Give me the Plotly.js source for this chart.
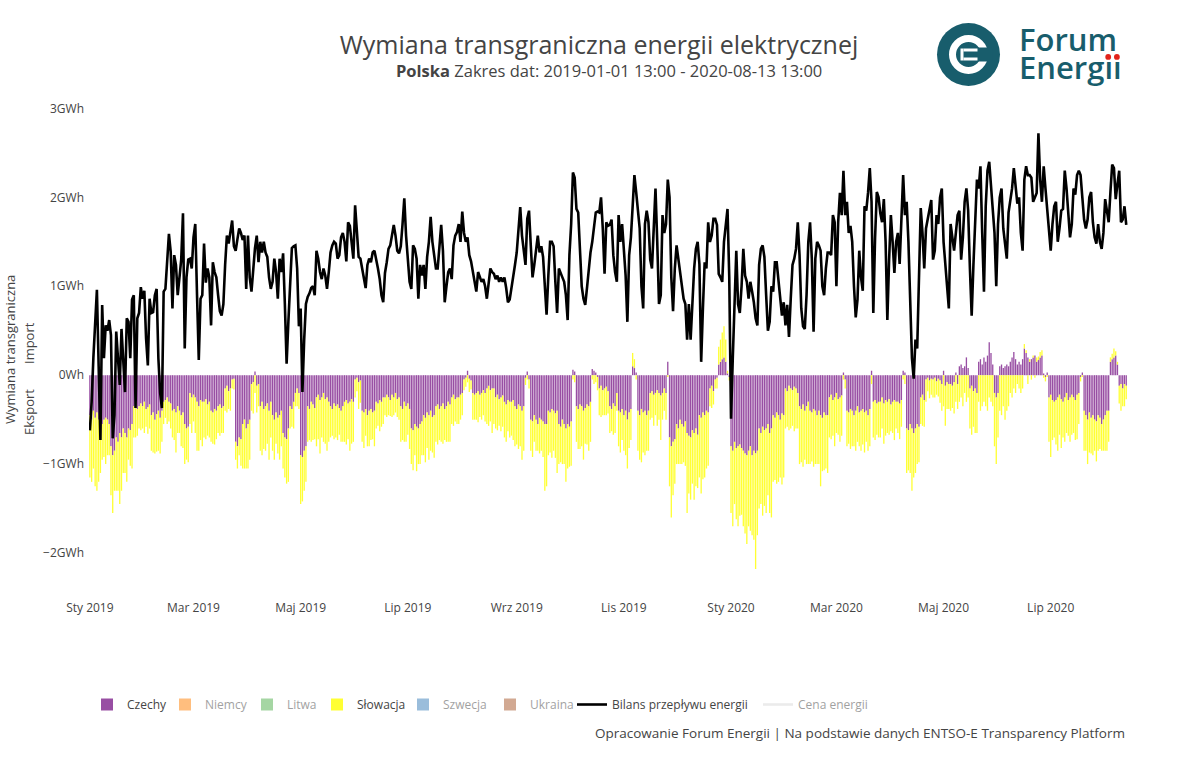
<!DOCTYPE html>
<html>
<head>
<meta charset="utf-8">
<script src="https://cdn.plot.ly/plotly-3.0.1.min.js"></script>
<style>html,body{margin:0;padding:0;background:#fff;}#chart{width:1200px;height:758px;}</style>
</head>
<body>
<div id="chart"></div>
<script>
// ---------------- DATA (GWh, daily, 2019-01-01 .. 2020-08-13) ----------------
const START_DATE = '2019-01-01';
const N_DAYS = 591;

const czechy = [
-0.45,-0.5,-0.4,-0.48,-0.42,-0.5,-0.45,-0.55,-0.5,-0.48,
-0.5,-0.55,-0.8,-0.9,-0.85,-0.7,-0.75,-0.65,-0.7,-0.6,
-0.65,-0.7,-0.6,-0.62,-0.55,-0.35,-0.3,-0.38,-0.35,-0.32,
-0.35,-0.3,-0.38,-0.36,-0.33,-0.45,-0.42,-0.5,-0.44,-0.4,
-0.48,-0.4,-0.3,-0.28,-0.25,-0.3,-0.32,-0.4,-0.38,-0.42,
-0.35,-0.4,-0.45,-0.42,-0.55,-0.6,-0.58,-0.2,-0.25,-0.22,
-0.25,-0.3,-0.35,-0.28,-0.3,-0.3,-0.27,-0.33,-0.3,-0.4,
-0.42,-0.38,-0.4,-0.35,-0.33,-0.37,-0.35,-0.15,-0.12,-0.18,
-0.15,-0.05,-0.04,-0.75,-0.8,-0.7,-0.72,-0.55,-0.5,-0.6,
-0.55,-0.5,-0.1,-0.08,0.04,-0.12,-0.1,-0.35,-0.3,-0.38,
-0.35,-0.32,-0.4,-0.3,-0.45,-0.5,-0.42,-0.48,-0.45,-0.4,
-0.65,-0.7,-0.72,-0.6,-0.35,-0.38,-0.3,-0.2,-0.15,-0.2,
-0.9,-0.92,-0.85,-0.8,-0.35,-0.38,-0.3,-0.33,-0.37,-0.25,
-0.22,-0.28,-0.25,-0.2,-0.27,-0.25,-0.3,-0.35,-0.38,-0.32,
-0.35,-0.33,-0.37,-0.4,-0.35,-0.3,-0.28,-0.32,-0.3,-0.27,
-0.3,-0.05,-0.03,-0.08,-0.06,-0.4,-0.42,-0.38,-0.45,-0.4,
-0.38,-0.42,-0.4,-0.3,-0.32,-0.28,-0.3,-0.25,-0.25,-0.22,
-0.25,-0.28,-0.22,-0.25,-0.2,-0.27,-0.25,-0.35,-0.38,-0.3,
-0.35,-0.32,-0.38,-0.6,-0.62,-0.55,-0.58,-0.6,-0.55,-0.52,
-0.45,-0.48,-0.42,-0.45,-0.4,-0.47,-0.45,-0.35,-0.33,-0.38,
-0.35,-0.32,-0.38,-0.35,-0.3,-0.33,-0.25,-0.22,-0.27,-0.25,
-0.25,-0.22,-0.2,-0.05,-0.03,0.05,-0.04,-0.06,-0.2,-0.22,
-0.2,-0.18,-0.22,-0.2,-0.17,-0.2,-0.15,-0.12,-0.17,-0.15,
-0.15,-0.25,-0.22,-0.27,-0.25,-0.23,-0.3,-0.33,-0.28,-0.3,
-0.3,-0.28,-0.35,-0.38,-0.33,-0.35,-0.4,-0.35,-0.03,0.04,
-0.05,-0.5,-0.52,-0.45,-0.5,-0.55,-0.48,-0.5,-0.52,-0.55,
-0.55,-0.4,-0.42,-0.38,-0.4,-0.43,-0.4,-0.55,-0.58,-0.5,
-0.55,-0.6,-0.55,-0.58,-0.52,0.06,0.04,-0.35,-0.38,-0.33,
-0.35,-0.4,-0.37,-0.33,-0.35,-0.3,0.07,0.05,0.03,-0.02,
-0.15,-0.12,-0.17,-0.15,-0.13,-0.18,-0.35,-0.38,-0.32,-0.35,
-0.2,-0.4,-0.42,-0.38,-0.45,-0.4,-0.5,-0.42,-0.38,0.1,
0.08,0.03,-0.4,-0.45,-0.38,-0.42,-0.4,-0.45,-0.4,-0.2,
-0.18,-0.22,-0.2,-0.17,-0.2,-0.23,-0.2,-0.15,-0.2,0.15,
-0.7,-0.8,-0.75,-0.72,-0.55,-0.6,-0.5,-0.55,-0.58,-0.52,
-0.65,-0.68,-0.7,-0.62,-0.65,-0.6,-0.67,-0.45,-0.48,-0.42,
-0.45,-0.4,-0.42,-0.15,-0.12,-0.18,-0.05,-0.03,0.12,0.15,
0.18,0.2,0.15,0.02,-0.02,-0.8,-0.85,-0.75,-0.82,-0.8,
-0.78,-0.82,-0.85,-0.88,-0.9,-0.85,-0.8,-0.9,-0.85,-0.88,
-0.85,-0.6,-0.65,-0.58,-0.62,-0.6,-0.55,-0.65,-0.6,-0.45,
-0.48,-0.42,-0.45,-0.5,-0.43,-0.45,-0.15,-0.18,-0.12,-0.15,
-0.17,-0.13,-0.15,-0.2,-0.35,-0.38,-0.33,-0.4,-0.35,-0.3,
-0.4,-0.42,-0.38,-0.4,-0.45,-0.4,-0.45,-0.48,-0.42,-0.45,
-0.45,-0.25,-0.22,-0.28,-0.25,-0.2,-0.27,-0.25,-0.23,0.03,
-0.05,-0.4,-0.42,-0.38,-0.4,-0.45,-0.4,-0.35,-0.42,-0.4,
-0.38,-0.42,-0.4,-0.45,-0.38,0.05,-0.3,-0.28,-0.32,-0.3,
-0.3,-0.25,-0.32,-0.28,-0.3,-0.27,-0.33,-0.3,-0.28,-0.3,
-0.3,-0.32,-0.28,0.05,0.03,-0.6,-0.62,-0.55,-0.6,-0.65,
-0.6,-0.55,-0.58,-0.25,-0.22,-0.28,-0.05,-0.03,-0.06,-0.04,
-0.05,-0.03,-0.07,-0.04,-0.06,-0.1,0.05,-0.12,-0.08,-0.1,
-0.1,-0.12,-0.08,0.03,-0.1,0.1,0.12,0.08,0.1,0.2,
0.08,-0.15,-0.12,-0.18,-0.15,-0.2,0.15,0.18,0.12,0.2,
0.15,0.22,0.37,0.25,0.12,-0.2,-0.25,-0.2,0.1,0.12,
0.08,0.1,0.12,0.1,0.15,0.2,0.26,0.18,0.12,0.15,
0.12,0.18,0.3,0.25,0.2,0.15,0.18,0.2,0.22,0.15,
0.17,0.2,0.22,0.02,-0.02,0.03,-0.25,-0.22,-0.28,-0.3,
-0.28,-0.25,-0.22,-0.27,-0.3,-0.25,-0.2,-0.28,-0.25,-0.22,
-0.25,-0.28,-0.22,-0.2,-0.02,0.03,-0.4,-0.45,-0.5,-0.42,
-0.48,-0.45,-0.5,-0.52,-0.45,-0.48,-0.55,-0.5,-0.45,-0.4,
-0.4,0.15,0.18,0.2,0.22,0.12,-0.12,-0.1,-0.15,-0.1,-0.12
];

const slowacja = [
-0.7,-0.7,-0.65,-0.77,-0.88,-0.7,-0.65,-0.4,-0.42,-0.52,
-0.4,-0.35,-0.55,-0.65,-0.45,-0.6,-0.55,-0.8,-0.6,-0.5,
-0.45,-0.5,-0.35,-0.4,-0.5,-0.35,-0.4,-0.3,-0.25,-0.3,
-0.25,-0.35,-0.2,-0.3,-0.27,-0.4,-0.45,-0.38,-0.42,-0.45,
-0.4,-0.35,-0.25,-0.2,-0.3,-0.22,-0.28,-0.3,-0.35,-0.45,
-0.3,-0.25,-0.35,-0.4,-0.45,-0.35,-0.4,-0.35,-0.4,-0.3,
-0.4,-0.55,-0.5,-0.45,-0.5,-0.4,-0.45,-0.35,-0.4,-0.35,
-0.35,-0.4,-0.32,-0.3,-0.35,-0.28,-0.3,-0.25,-0.3,-0.2,
-0.25,-0.1,-0.12,-0.2,-0.25,-0.2,-0.3,-0.5,-0.55,-0.45,
-0.5,-0.45,-0.3,-0.35,-0.2,-0.3,-0.25,-0.5,-0.6,-0.45,
-0.5,-0.45,-0.55,-0.4,-0.4,-0.45,-0.35,-0.4,-0.5,-0.4,
-0.4,-0.45,-0.5,-0.6,-0.25,-0.2,-0.3,-0.15,-0.2,-0.18,
-0.55,-0.5,-0.45,-0.4,-0.4,-0.35,-0.45,-0.4,-0.35,-0.55,
-0.5,-0.6,-0.45,-0.55,-0.5,-0.6,-0.45,-0.35,-0.3,-0.4,
-0.35,-0.4,-0.3,-0.35,-0.4,-0.45,-0.5,-0.4,-0.55,-0.5,
-0.45,-0.2,-0.15,-0.3,-0.25,-0.35,-0.4,-0.3,-0.35,-0.4,
-0.35,-0.3,-0.4,-0.3,-0.25,-0.35,-0.28,-0.3,-0.2,-0.25,
-0.2,-0.18,-0.25,-0.2,-0.22,-0.2,-0.25,-0.4,-0.35,-0.45,
-0.4,-0.35,-0.45,-0.4,-0.45,-0.35,-0.5,-0.4,-0.45,-0.38,
-0.45,-0.5,-0.4,-0.5,-0.45,-0.4,-0.48,-0.4,-0.45,-0.35,
-0.4,-0.45,-0.35,-0.4,-0.45,-0.42,-0.3,-0.35,-0.25,-0.3,
-0.3,-0.28,-0.25,-0.12,-0.1,-0.08,-0.15,-0.1,-0.3,-0.28,
-0.3,-0.35,-0.25,-0.3,-0.28,-0.32,-0.4,-0.45,-0.35,-0.5,
-0.4,-0.35,-0.4,-0.3,-0.38,-0.35,-0.4,-0.42,-0.35,-0.4,
-0.38,-0.45,-0.45,-0.4,-0.5,-0.45,-0.55,-0.5,-0.08,-0.05,
-0.1,-0.35,-0.4,-0.3,-0.35,-0.3,-0.4,-0.35,-0.4,-0.75,
-0.7,-0.5,-0.45,-0.55,-0.45,-0.5,-0.7,-0.45,-0.4,-0.5,
-0.45,-0.6,-0.5,-0.45,-0.5,-0.05,-0.08,-0.4,-0.45,-0.5,
-0.45,-0.55,-0.4,-0.45,-0.5,-0.45,-0.05,-0.1,-0.08,-0.15,
-0.3,-0.35,-0.28,-0.3,-0.32,-0.25,-0.3,-0.25,-0.35,-0.3,
-0.2,-0.4,-0.45,-0.35,-0.4,-0.5,-0.55,-0.4,-0.35,0.15,
0.1,-0.05,-0.45,-0.5,-0.6,-0.45,-0.5,-0.4,-0.45,-0.3,
-0.3,-0.35,-0.25,-0.4,-0.3,-0.5,-0.3,-0.25,-0.3,-0.02,
-0.55,-0.8,-0.6,-0.5,-0.45,-0.4,-0.5,-0.45,-0.4,-0.5,
-0.9,-0.65,-0.7,-0.6,-0.75,-0.65,-0.6,-0.7,-0.85,-0.75,
-0.7,-0.65,-0.6,-0.2,-0.25,-0.15,-0.1,-0.12,0.2,0.25,
0.3,0.35,0.25,0.03,-0.04,-0.75,-0.85,-0.7,-0.8,-0.9,
-0.8,-0.75,-0.85,-0.9,-1.0,-0.85,-0.95,-0.9,-1.0,-1.3,
-0.95,-0.9,-0.8,-1.0,-0.85,-0.95,-0.8,-0.9,-1.0,-0.75,
-0.7,-0.8,-0.75,-0.65,-0.8,-0.7,-0.45,-0.4,-0.5,-0.45,
-0.4,-0.5,-0.45,-0.4,-0.65,-0.6,-0.7,-0.55,-0.65,-0.7,
-0.6,-0.55,-0.65,-0.6,-0.55,-0.6,-0.8,-0.6,-0.65,-0.6,
-0.65,-0.45,-0.5,-0.4,-0.55,-0.45,-0.4,-0.5,-0.45,-0.05,
-0.1,-0.4,-0.35,-0.45,-0.4,-0.35,-0.45,-0.4,-0.38,-0.45,
-0.4,-0.45,-0.35,-0.4,-0.42,-0.1,-0.4,-0.45,-0.35,-0.4,
-0.4,-0.35,-0.45,-0.4,-0.35,-0.4,-0.3,-0.35,-0.45,-0.3,
-0.35,-0.4,-0.3,-0.05,-0.1,-0.5,-0.45,-0.55,-0.7,-0.5,
-0.5,-0.45,-0.4,-0.3,-0.35,-0.3,-0.25,-0.15,-0.2,-0.18,
-0.2,-0.22,-0.15,-0.2,-0.25,-0.3,-0.35,-0.45,-0.3,-0.28,
-0.3,-0.25,-0.35,-0.3,-0.28,-0.3,-0.25,-0.35,-0.2,-0.3,
-0.25,-0.45,-0.55,-0.4,-0.5,-0.45,-0.3,-0.4,-0.35,-0.3,
-0.35,-0.4,-0.25,-0.3,-0.35,-0.6,-0.75,-0.5,-0.4,-0.45,
-0.35,-0.5,-0.4,-0.35,-0.2,-0.25,-0.15,-0.2,-0.1,-0.15,
-0.2,-0.15,0.05,0.03,-0.1,0.03,-0.05,0.02,-0.03,0.05,
0.04,0.06,0.06,-0.03,-0.05,-0.02,-0.5,-0.7,-0.45,-0.4,
-0.5,-0.6,-0.45,-0.55,-0.4,-0.5,-0.45,-0.4,-0.5,-0.45,
-0.4,-0.45,-0.5,-0.35,-0.05,-0.02,-0.45,-0.4,-0.5,-0.45,
-0.4,-0.45,-0.35,-0.45,-0.4,-0.35,-0.3,-0.35,-0.4,-0.45,
-0.35,0.05,0.06,0.1,0.05,0.03,-0.2,-0.3,-0.2,-0.25,-0.15
];

const bilans = [
-0.62,-0.3,0.2,0.6,0.96,0.1,-0.73,0.79,0.19,0.56,
0.5,0.62,0.45,-0.71,-0.45,0.49,0.19,-0.11,0.52,0.1,
-0.19,0.64,0.6,0.19,0.85,0.9,-0.37,0.64,0.7,0.99,
0.86,0.95,0.41,0.11,0.86,0.7,0.71,0.9,0.97,0.19,
-0.2,-0.37,0.94,0.97,1.31,1.59,1.39,0.75,1.35,1.24,
0.9,1.1,1.3,1.82,0.3,1.1,1.3,1.31,1.2,1.55,
1.7,0.9,0.17,0.86,0.9,1.48,1.04,1.2,1.1,0.56,
1.27,1.16,1.1,0.9,0.72,0.67,0.8,1.24,1.57,1.48,
1.6,1.74,1.45,1.4,1.53,1.65,1.6,1.52,1.57,0.97,
1.57,1.1,0.94,1.24,1.43,1.57,1.27,1.5,1.38,1.5,
1.38,1.33,1.1,0.97,1.05,1.31,1.16,0.86,1.31,1.16,
1.37,0.8,0.13,0.6,1.05,1.43,1.45,1.46,1.2,0.55,
0.75,-0.19,0.4,0.8,0.88,0.92,0.98,1.0,0.9,1.4,
1.31,1.16,1.08,1.2,1.12,0.97,1.16,1.38,1.46,1.5,
1.48,1.31,1.35,1.55,1.6,1.5,1.28,1.72,1.68,1.5,
1.31,1.91,1.65,1.33,1.31,1.2,1.12,0.98,1.24,1.31,
1.27,1.38,1.4,1.31,1.2,1.08,0.9,0.82,1.15,1.27,
1.42,1.46,1.57,1.69,1.57,1.4,1.37,1.45,1.7,1.99,
1.57,1.27,1.05,0.97,1.46,1.42,1.31,0.86,1.24,1.12,
1.24,0.97,1.33,1.5,1.78,1.5,1.31,1.2,1.2,1.5,
1.69,1.4,0.82,1.0,1.16,1.2,1.08,1.46,1.57,1.61,
1.7,1.5,1.84,1.6,1.5,1.55,1.35,1.28,1.16,1.05,
0.94,1.16,1.1,1.05,1.08,1.0,0.86,1.05,1.2,1.16,
1.14,1.08,1.12,1.05,1.1,1.05,1.1,0.98,0.82,0.85,
1.0,1.12,1.24,1.38,1.61,1.89,1.57,1.38,1.24,1.76,
1.85,1.46,1.1,1.24,1.4,1.57,1.38,1.45,1.33,1.05,
0.68,1.12,1.5,1.5,1.45,1.05,0.7,1.2,1.14,1.1,
1.05,0.9,0.62,1.35,1.7,2.28,2.22,1.87,1.83,1.35,
1.0,0.86,0.79,0.98,1.2,1.38,1.5,1.68,1.83,1.84,
1.83,2.0,1.65,1.14,1.72,1.68,1.69,1.75,1.35,1.16,
1.05,1.8,1.5,1.7,1.45,1.12,0.6,1.35,1.55,1.9,
2.25,2.06,1.8,1.65,1.0,0.75,1.7,1.85,1.72,1.3,
1.2,1.7,2.1,1.5,0.8,0.9,1.8,1.6,1.7,2.2,
2.0,1.1,0.72,1.2,1.46,1.31,1.16,1.05,0.86,0.8,
0.4,0.8,0.4,0.8,1.2,1.42,1.5,1.25,0.15,0.75,
1.27,1.2,1.72,1.5,1.57,1.76,1.76,1.69,1.14,1.1,
1.05,1.5,1.7,1.87,1.1,-0.49,0.19,0.7,1.4,0.8,
0.7,1.0,1.42,1.12,1.05,0.86,1.05,0.94,0.82,0.64,
0.56,1.24,1.42,1.46,1.33,0.9,0.5,0.6,1.0,0.94,
1.27,1.27,1.08,0.86,0.67,0.82,0.56,0.79,0.43,0.86,
1.24,1.31,1.42,1.72,1.35,0.75,0.55,0.52,0.9,1.5,
1.72,1.31,0.49,1.31,1.5,1.46,1.4,1.0,0.9,1.2,
1.38,1.38,1.35,1.8,1.72,1.0,1.72,2.05,1.8,2.3,
1.8,1.95,1.6,1.68,1.5,1.0,0.65,0.85,1.4,1.1,
0.95,1.9,1.85,2.05,2.33,1.95,0.7,1.54,2.06,2.0,
1.82,1.72,1.98,1.5,0.62,1.3,1.8,1.5,1.15,1.5,
1.6,1.25,1.7,2.25,1.8,1.95,1.5,0.94,0.19,-0.04,
0.4,0.3,1.0,1.88,1.6,1.2,1.65,1.75,1.85,1.97,
1.3,1.4,1.8,1.7,2.0,2.1,1.5,1.25,1.1,0.75,
1.7,1.55,1.4,1.6,1.8,1.85,1.3,1.55,1.95,2.1,
1.85,1.2,0.67,1.24,1.76,2.2,2.1,2.35,1.6,0.94,
1.9,2.3,2.4,2.15,1.9,1.6,1.0,1.7,2.0,2.1,
1.65,1.46,1.31,1.83,1.98,2.1,2.33,2.1,1.93,2.0,
1.6,1.4,2.2,2.35,2.25,2.25,2.22,1.95,2.0,2.05,
2.72,2.2,1.95,2.35,2.1,1.85,1.6,1.4,1.7,1.9,
1.95,1.5,1.65,1.85,1.87,2.3,2.1,1.85,1.55,1.7,
2.1,2.03,2.25,2.3,2.25,2.0,1.75,1.65,1.75,2.0,
2.06,1.72,1.55,1.48,1.7,1.5,1.42,1.6,1.98,1.85,
1.72,2.06,2.37,2.33,1.98,2.15,2.3,1.72,1.75,1.9,1.69
];

const seriesNames = ['Czechy','Niemcy','Litwa','Słowacja','Szwecja','Ukraina'];
const seriesColors = ['#984ea3','#ff7f00','#4daf4a','#ffff33','#377eb8','#a65628'];
const lineNames = ['Bilans przepływu energii','Cena energii'];
const lineColors = ['#000000','#d9d9d9'];

const xTickVals = ['2019-01-01','2019-03-01','2019-05-01','2019-07-01','2019-09-01','2019-11-01',
                   '2020-01-01','2020-03-01','2020-05-01','2020-07-01'];
const xTickText = ['Sty 2019','Mar 2019','Maj 2019','Lip 2019','Wrz 2019','Lis 2019',
                   'Sty 2020','Mar 2020','Maj 2020','Lip 2020'];
const yTickVals = [-2,-1,0,1,2,3];
const yTickText = ['\u22122GWh','\u22121GWh','0Wh','1GWh','2GWh','3GWh'];

// ---------------- dates ----------------
const dates = [];
(function(){
  const d0 = new Date(START_DATE + 'T00:00:00Z');
  for (let i = 0; i < N_DAYS; i++) {
    const d = new Date(d0.getTime() + i*86400000);
    dates.push(d.toISOString().slice(0,10));
  }
})();
const noValues = dates.map(() => null);   // series hidden in the legend (no data drawn)

// ---------------- geometry helpers ----------------
const L = 89, T = 104, W = 1039, H = 489;
const px = x => (x - L) / W;
const py = y => (T + H - y) / H;

const TXT = '#444';
const FONT = 'Open Sans, Arial, sans-serif';
const TEAL = '#185d6c';
const LOGO_TEXT = 'Forum<br>Energ\u0131\u0131';

// legend entry text start positions (pixels) — one small legend per entry
const legendTextX = [127, 205, 287, 357, 443, 530, 612, 798];
const legendY = 690;

const traces = [];
const valuesBy = {'Czechy': czechy, 'Słowacja': slowacja};
seriesNames.forEach((nm, i) => {
  const vals = valuesBy[nm];
  traces.push({
    type: 'bar', name: nm, legend: i === 0 ? 'legend' : 'legend' + (i + 1),
    x: dates, y: vals ? vals : noValues,
    marker: {color: seriesColors[i], line: {width: 0}},
    visible: vals ? true : 'legendonly'
  });
});
traces.push({
  type: 'scatter', mode: 'lines', name: lineNames[0], legend: 'legend7',
  x: dates, y: bilans,
  line: {color: lineColors[0], width: 2.6}
});
traces.push({
  type: 'scatter', mode: 'lines', name: lineNames[1], legend: 'legend8',
  x: dates, y: noValues, visible: 'legendonly',
  line: {color: lineColors[1], width: 2.6}
});

const annotations = [
  {text: '<b>Polska</b> Zakres dat: 2019-01-01 13:00 - 2020-08-13 13:00',
   x: px(609), y: py(71), xref: 'paper', yref: 'paper', showarrow: false,
   xanchor: 'center', yanchor: 'middle', font: {family: FONT, size: 16.5, color: TXT}},
  {text: 'Opracowanie Forum Energii | Na podstawie danych ENTSO-E Transparency Platform',
   x: px(1127), y: py(733), xref: 'paper', yref: 'paper', showarrow: false,
   xanchor: 'right', yanchor: 'middle', font: {family: FONT, size: 13.5, color: TXT}},
  {text: 'Wymiana transgraniczna', textangle: -90,
   x: px(10), y: py(350), xref: 'paper', yref: 'paper', showarrow: false,
   xanchor: 'center', yanchor: 'middle', font: {family: FONT, size: 13, color: TXT}},
  {text: 'Import', textangle: -90,
   x: px(29), y: py(343), xref: 'paper', yref: 'paper', showarrow: false,
   xanchor: 'center', yanchor: 'middle', font: {family: FONT, size: 13, color: TXT}},
  {text: 'Eksport', textangle: -90,
   x: px(29), y: py(412), xref: 'paper', yref: 'paper', showarrow: false,
   xanchor: 'center', yanchor: 'middle', font: {family: FONT, size: 13, color: TXT}},
  {text: LOGO_TEXT, x: px(1017), y: py(59), xref: 'paper', yref: 'paper', showarrow: false,
   align: 'left', xanchor: 'left', yanchor: 'middle',
   font: {family: FONT, size: 31, color: TEAL, weight: 600}}
];

const cx = 968.5, cy = 54.5;
const P = (o) => Object.assign({xref: 'paper', yref: 'paper', xsizemode: 'pixel', ysizemode: 'pixel',
                                xanchor: px(cx), yanchor: py(cy), line: {width: 0}}, o);
const shapes = [
  P({type: 'circle', x0: -31.5, x1: 31.5, y0: -31.5, y1: 31.5, fillcolor: TEAL}),
  P({type: 'circle', x0: -16, x1: 16, y0: -16, y1: 16, fillcolor: 'rgba(0,0,0,0)',
     line: {width: 7, color: '#fff'}}),
  P({type: 'rect', x0: 5, x1: 24, y0: -7, y1: 7, fillcolor: TEAL}),
  P({type: 'rect', x0: -5, x1: 9, y0: 3, y1: 6, fillcolor: '#fff'}),
  P({type: 'rect', x0: -5, x1: 9, y0: -6, y1: -3, fillcolor: '#fff'}),
  P({type: 'rect', x0: -8, x1: -5, y0: -6, y1: 6, fillcolor: '#fff'})
];

const layout = {
  width: 1200, height: 758,
  margin: {l: L, r: 1200 - L - W, t: T, b: 758 - T - H, pad: 0},
  paper_bgcolor: '#fff', plot_bgcolor: '#fff',
  font: {family: FONT, color: TXT, size: 12},
  title: {text: 'Wymiana transgraniczna energii elektrycznej',
          x: 599/1200, xanchor: 'center', xref: 'container',
          y: 1 - 45/758, yanchor: 'middle', yref: 'container',
          font: {family: FONT, size: 25, color: TXT}},
  barmode: 'relative', bargap: 0.25,
  showlegend: true,
  xaxis: {type: 'date', range: ['2018-12-31 12:00', '2020-08-14 00:00'],
          tickvals: xTickVals, ticktext: xTickText, showgrid: false, zeroline: false,
          showline: false, ticks: '', ticklabelstandoff: 6, tickfont: {size: 12, color: TXT}},
  yaxis: {range: [-2.45, 3.05], tickvals: yTickVals, ticktext: yTickText,
          showgrid: false, zeroline: false, showline: false, ticks: '', ticklabelstandoff: 4,
          tickfont: {size: 12, color: TXT}},
  annotations: annotations,
  shapes: shapes
};
legendTextX.forEach((tx, i) => {
  const key = i === 0 ? 'legend' : 'legend' + (i + 1);
  layout[key] = {orientation: 'h', x: px(tx - 40), y: py(legendY), xanchor: 'left', yanchor: 'top',
                 font: {family: FONT, size: 12, color: TXT}, bgcolor: 'rgba(0,0,0,0)',
                 borderwidth: 0};
});

function finishLogo(gd) {
  // tighten the logo's line spacing and put red dots over the final "ıı"
  let target = null;
  gd.querySelectorAll('.annotation-text').forEach(a => {
    if (a.textContent.indexOf('Forum') === 0) target = a;
  });
  if (!target) return;
  const lines = target.querySelectorAll('tspan.line');
  if (lines.length < 2) return;
  lines[1].setAttribute('dy', '0.9em');
  const bb = lines[1].getBoundingClientRect();
  const host = gd.getBoundingClientRect();
  const right = bb.right - host.left;
  const top = bb.top - host.top;
  const svg = gd.querySelector('.infolayer') || gd.querySelector('svg.main-svg:last-of-type');
  const ns = 'http://www.w3.org/2000/svg';
  const layer = document.createElementNS(ns, 'g');
  [right - 13.5, right - 4.8].forEach(xc => {
    const c = document.createElementNS(ns, 'circle');
    c.setAttribute('cx', xc); c.setAttribute('cy', top + 11); c.setAttribute('r', 2.9);
    c.setAttribute('fill', '#e2231a');
    layer.appendChild(c);
  });
  svg.appendChild(layer);
}

Plotly.newPlot('chart', traces, layout, {displayModeBar: false, staticPlot: true}).then(finishLogo);
</script>
</body>
</html>
